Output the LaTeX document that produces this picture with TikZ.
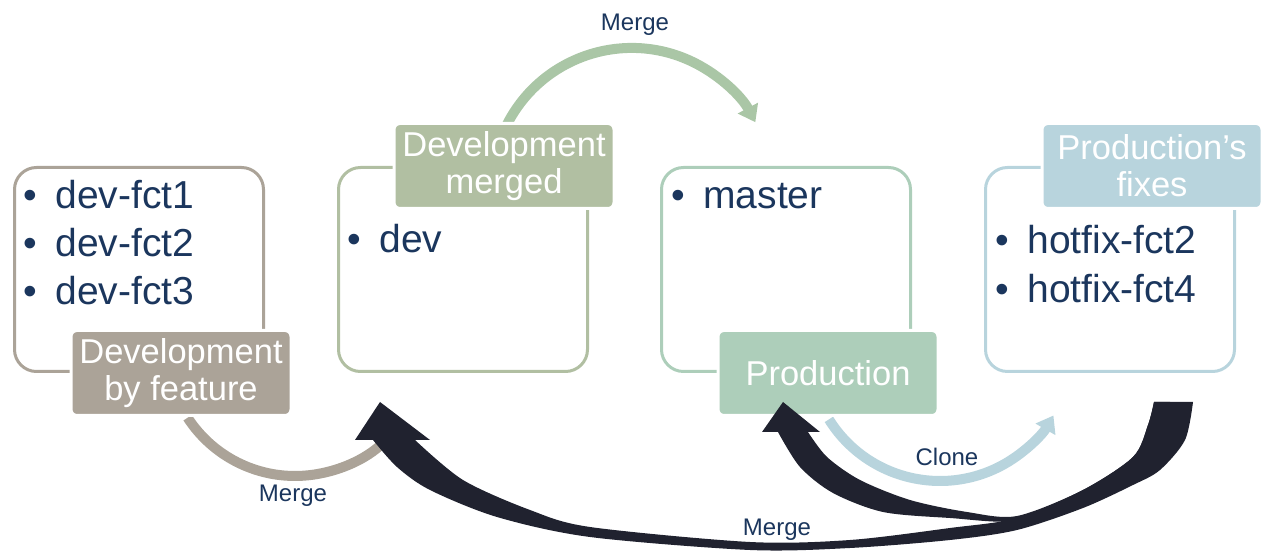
\documentclass[tikz,border=0pt]{standalone}
\usepackage{fontspec}
\setmainfont{Liberation Sans}
\usetikzlibrary{arrows.meta}
\definecolor{navy}{HTML}{1B365D}
\definecolor{featgrey}{HTML}{ABA398}
\definecolor{devsage}{HTML}{B1BFA2}
\definecolor{prodmint}{HTML}{ADCEBA}
\definecolor{fixblue}{HTML}{B8D4DD}
\definecolor{mergegreen}{HTML}{AAC6A6}
\definecolor{arrowdark}{HTML}{20222F}

\begin{document}
\begin{tikzpicture}[x=0.5pt,y=-0.5pt,
  box/.style={draw,line width=1.5pt,rounded corners=11pt,minimum width=124.5pt,minimum height=102pt},
  tag/.style={draw=white,line width=1.5pt,rounded corners=3pt,minimum width=110pt,minimum height=42.5pt,
    text=white,align=center,font=\fontsize{17.25}{18.5}\selectfont},
  item/.style={anchor=base west,text=navy,inner sep=0pt,font=\fontsize{19.5}{24}\selectfont},
  flow/.style={line width=5pt,-{Triangle[width=11pt,length=8pt]}},
  note/.style={text=navy,font=\fontsize{12}{14}\selectfont},
  bigarrow/.style={fill=arrowdark}]
   \useasboundingbox (0,0) rectangle (1276,560);

   \coordinate (featout) at (187.6,417.7);
   \coordinate (cloneout) at (828.9,419.4);
   \coordinate (devout) at (507,124.4);
   \draw[flow,featgrey] (featout) arc[start angle=213,end angle=322,radius=64pt];
   \draw[flow,fixblue] (cloneout) arc[start angle=212,end angle=330,radius=65.5pt];
   \draw[flow,mergegreen] (devout) arc[start angle=153,end angle=28,radius=70pt];

   \node[box,draw=featgrey] (feat) at (139,269.5) {};
   \node[box,draw=devsage] (dev) at (463,269.5) {};
   \node[box,draw=prodmint] (prod) at (786,269.5) {};
   \node[box,draw=fixblue] (fix) at (1110,269.5) {};

   \node[item] (fct1) at (55,209) {\llap{•\hspace{9pt}}dev-fct1};
   \node[item] (fct2) at (55,257) {\llap{•\hspace{9pt}}dev-fct2};
   \node[item] (fct3) at (55,305) {\llap{•\hspace{9pt}}dev-fct3};
   \node[item] (devbr) at (379,253) {\llap{•\hspace{9pt}}dev};
   \node[item] (master) at (703,209) {\llap{•\hspace{9pt}}master};
   \node[item] (hot2) at (1027,254) {\llap{•\hspace{9pt}}hotfix-fct2};
   \node[item] (hot4) at (1027,303) {\llap{•\hspace{9pt}}hotfix-fct4};

   \node[tag,fill=featgrey] (feattag) at (181,373) {Development\\by feature};
   \node[tag,fill=devsage] (devtag) at (504,166) {Development\\merged};
   \node[tag,fill=prodmint] (prodtag) at (828,373) {Production};
   \node[tag,fill=fixblue] (fixtag) at (1152,166) {Production’s\\fixes};

   \fill[bigarrow] (380,402) -- (430,440) -- (415,440)
     -- plot[smooth,tension=0.5] coordinates {(415,440) (463,480) (530,510) (590,527) (750,542) (850,540)
        (950,528) (1017,518) (1083,490) (1133,457) (1148,425) (1154,402)}
     -- (1193,402)
     -- plot[smooth,tension=0.5] coordinates {(1193,402) (1185,440) (1160,470) (1133,485) (1083,508)
        (1017,530) (950,540) (850,548) (750,550) (590,537) (497,517) (430,490) (397,467) (373,440)}
     -- (355,440) -- cycle;
   \fill[bigarrow] (783,402) -- (820,432) -- (808,432)
     -- plot[smooth,tension=0.5] coordinates {(808,432) (827,457) (860,480) (910,500) (967,512) (1017,516)
        (1083,490) (1133,457) (1148,425) (1154,402)}
     -- (1170,402)
     -- plot[smooth,tension=0.5] coordinates {(1170,402) (1165,440) (1140,470) (1083,500) (1017,521)
        (950,518) (883,512) (833,493) (800,467) (778,432)}
     -- (762,432) -- cycle;

   \node[note] (mergetop) at (635,25) {Merge};
   \node[note] (mergefeat) at (293,496) {Merge};
   \node[note] (clone) at (947,457) {Clone};
   \node[note] (mergefix) at (777,530) {Merge};
\end{tikzpicture}
\end{document}
